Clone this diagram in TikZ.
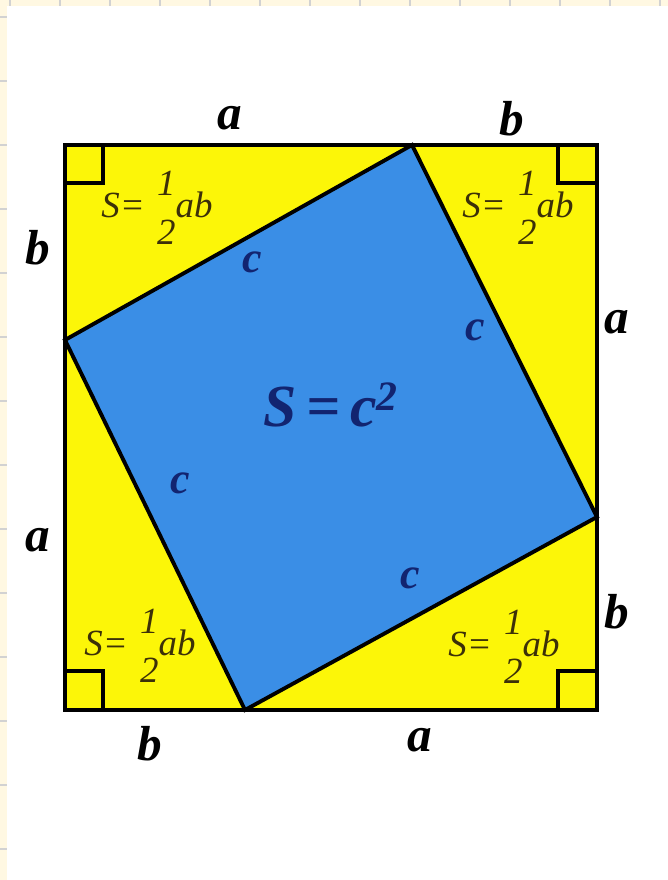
\documentclass[tikz,border=0pt]{standalone}
\usepackage{fontspec}
\setmainfont{Liberation Serif}
\usetikzlibrary{positioning}
\definecolor{sqyellow}{RGB}{252,246,8}
\definecolor{sqblue}{RGB}{58,142,230}
\definecolor{cnavy}{RGB}{18,36,112}
\definecolor{tribrown}{RGB}{60,48,8}
\definecolor{paper}{RGB}{255,248,226}
\newcommand{\halfab}{S=\,\,$\vcenter{\hbox{\shortstack{1\\[11pt]2}}}$ab}

\begin{document}
\begin{tikzpicture}[
  side/.style={font=\fontsize{28}{30}\selectfont\bfseries\itshape},
  clbl/.style={font=\fontsize{25}{27}\selectfont\bfseries\itshape,text=cnavy},
  area/.style={font=\fontsize{21}{23}\selectfont\itshape,text=tribrown,inner sep=0pt},
  edge/.style={line width=2.2pt,line join=miter}]
\useasboundingbox (0,0) rectangle (13.36,17.6);
\fill[white] (0,0) rectangle (13.36,17.6);
% paper margin strips
\fill[paper] (0,17.48) rectangle (13.36,17.6);
\fill[paper] (0,0) rectangle (0.15,17.6);
\foreach \x in {0.2,1.2,...,13.2}
  \draw[gray!35,line width=1pt] (\x,17.48) -- (\x,17.6);
\foreach \y in {17.26,15.98,...,0.5}
  \draw[gray!35,line width=1pt] (0,\y) -- (0.15,\y);

% corners of the big square and of the tilted one
\coordinate (tl) at (1.3,14.7);
\coordinate (tr) at (11.94,14.7);
\coordinate (br) at (11.94,3.4);
\coordinate (bl) at (1.3,3.4);
\coordinate (ct) at (8.24,14.7);
\coordinate (cr) at (11.94,7.26);
\coordinate (cb) at (4.9,3.4);
\coordinate (cl) at (1.3,10.8);

\fill[sqyellow] (tl) rectangle (br);
\fill[sqblue] (ct) -- (cr) -- (cb) -- (cl) -- cycle;
\draw[edge] (ct) -- (cr) -- (cb) -- (cl) -- cycle;
\draw[edge] (tl) rectangle (br);

% right angle marks
\draw[edge] (1.3,13.94) -| (2.06,14.7);
\draw[edge] (11.94,13.94) -| (11.16,14.7);
\draw[edge] (1.3,4.18) -| (2.06,3.4);
\draw[edge] (11.94,4.18) -| (11.16,3.4);

% side lengths
\node[side] (topa) at (4.6,15.24) {a};
\node[side] (topb) at (10.24,15.22) {b};
\node[side] (leftb) at (0.76,12.64) {b};
\node[side] (lefta) at (0.76,6.8) {a};
\node[side] (righta) at (12.34,11.16) {a};
\node[side] (rightb) at (12.34,5.36) {b};
\node[side] (botb) at (3.0,2.72) {b};
\node[side] (bota) at (8.4,2.8) {a};

% hypotenuses
\node[clbl] (c1) at (5.04,12.36) {c};
\node[clbl] (c2) at (9.5,11.0) {c};
\node[clbl] (c3) at (3.6,7.94) {c};
\node[clbl] (c4) at (8.2,6.04) {c};
\node[clbl,font=\fontsize{34}{36}\selectfont\bfseries\itshape] (sq) at (6.62,9.5)
  {S\,=\,c\textsuperscript{2}};

% triangle areas
\node[area] (atl) at (3.14,13.44) {\halfab};
\node[area] (atr) at (10.36,13.44) {\halfab};
\node[area] (abl) at (2.8,4.68) {\halfab};
\node[area] (abr) at (10.08,4.66) {\halfab};
\end{tikzpicture}
\end{document}
